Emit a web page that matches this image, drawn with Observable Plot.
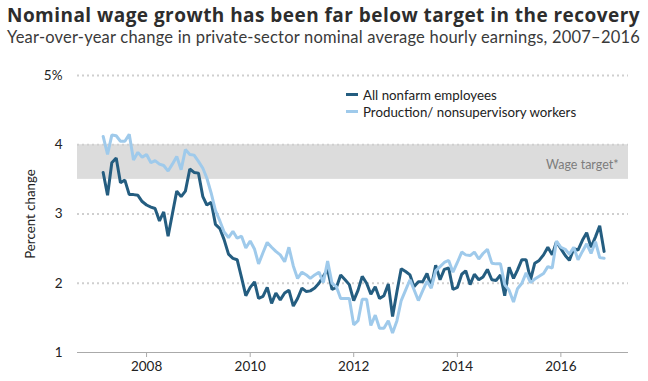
<!DOCTYPE html>
<html>
<head>
<meta charset="utf-8">
<script src="https://cdn.jsdelivr.net/npm/d3@7"></script>
<script src="https://cdn.jsdelivr.net/npm/@observablehq/plot@0.6"></script>
<style>
  html, body { margin: 0; padding: 0; background: #fff; }
  body { width: 648px; height: 381px; position: relative; overflow: hidden; font-family: "Lato", "Open Sans", sans-serif; }
  #title { position: absolute; left: 7px; top: 2px; font-family: "Open Sans", sans-serif; font-size: 19px; font-weight: 700; color: #2d2d2d; white-space: nowrap; line-height: 26px; }
  #subtitle { position: absolute; left: 7px; top: 27px; font-size: 16.5px; color: #3a3a3a; white-space: nowrap; line-height: 20px; }
  #chart { position: absolute; left: 0; top: 55px; }
  #legend { position: absolute; left: 346px; top: 86px; font-size: 13.3px; color: #222; }
  .row { display: flex; align-items: center; height: 17px; }
  .sw { width: 12px; height: 3.5px; margin-right: 5px; }
</style>
</head>
<body>
<div id="title">Nominal wage growth has been far below target in the recovery</div>
<div id="subtitle">Year-over-year change in private-sector nominal average hourly earnings, 2007–2016</div>
<div id="chart"></div>
<div id="legend"></div>
<script>
// Monthly series, March 2007 – November 2016 (percent, year-over-year)
const startMonth = "2007-03-01";
const seriesNames = ["All nonfarm employees", "Production/ nonsupervisory workers"];
const seriesColors = ["#245d80", "#9fcaeb"];

const allEmployees = [
  3.60, 3.27, 3.74, 3.81, 3.45, 3.49, 3.28, 3.28, 3.27, 3.18,
  3.13, 3.10, 3.08, 2.90, 3.03, 2.68, 3.00, 3.33, 3.25, 3.33, 3.65, 3.60,
  3.59, 3.25, 3.13, 3.17, 2.85, 2.79, 2.63, 2.42, 2.36, 2.34, 2.08, 1.82,
  1.94, 2.02, 1.78, 1.81, 1.94, 1.71, 1.86, 1.76, 1.86, 1.90, 1.67, 1.78,
  1.93, 1.88, 1.89, 1.93, 2.00, 2.10, 2.20, 1.91, 1.94, 2.12, 2.05, 1.98,
  1.75, 1.90, 2.10, 2.00, 1.84, 1.95, 1.78, 1.82, 1.99, 1.52, 1.88, 2.21,
  2.17, 2.12, 1.95, 2.02, 2.02, 2.14, 1.95, 2.26, 2.05, 2.20, 2.22, 1.91,
  1.94, 2.13, 2.18, 1.98, 2.13, 2.05, 2.09, 2.20, 2.05, 2.04, 2.12, 1.82,
  2.23, 2.07, 2.19, 2.34, 2.34, 2.05, 2.29, 2.33, 2.41, 2.52, 2.41, 2.60,
  2.50, 2.40, 2.33, 2.50, 2.48, 2.62, 2.73, 2.52, 2.67, 2.83, 2.46
];

const production = [
  4.12, 3.86, 4.14, 4.13, 4.05, 4.05, 4.15, 3.78, 3.89, 3.82,
  3.86, 3.74, 3.77, 3.72, 3.70, 3.62, 3.72, 3.83, 3.64, 3.93, 3.86, 3.85,
  3.76, 3.66, 3.52, 3.30, 3.05, 2.90, 2.74, 2.66, 2.75, 2.65, 2.68, 2.51,
  2.61, 2.49, 2.28, 2.44, 2.59, 2.52, 2.46, 2.41, 2.31, 2.52, 2.25, 2.07,
  2.16, 2.12, 2.07, 2.12, 2.16, 2.01, 2.32, 2.00, 1.95, 1.78, 1.78, 1.78,
  1.40, 1.46, 1.77, 1.77, 1.39, 1.54, 1.35, 1.35, 1.46, 1.28, 1.46, 1.75,
  1.90, 2.05, 1.91, 1.75, 1.89, 2.03, 1.93, 2.18, 2.24, 2.30, 2.33, 2.16,
  2.30, 2.45, 2.41, 2.40, 2.45, 2.35, 2.43, 2.49, 2.29, 2.28, 2.28, 1.98,
  1.90, 1.73, 1.92, 2.00, 2.15, 2.01, 2.06, 2.10, 2.14, 2.24, 2.22, 2.61,
  2.52, 2.49, 2.42, 2.52, 2.34, 2.46, 2.57, 2.43, 2.60, 2.37, 2.36
];

const yTicks = [1, 2, 3, 4, 5];
const gridValues = [2, 3, 4, 5];
const targetBand = [{ low: 3.5, high: 4.0 }];
const targetLabel = "Wage target*";
const yLabel = "Percent change";

const start = new Date(startMonth);
const months = allEmployees.map((_, i) => d3.utcMonth.offset(start, i));
const rows = [];
[allEmployees, production].forEach((vals, s) => {
  vals.forEach((v, i) => rows.push({ date: months[i], value: v, series: seriesNames[s] }));
});

const chart = Plot.plot({
  width: 648,
  height: 326,
  marginLeft: 77,
  marginRight: 20,
  marginTop: 20,
  marginBottom: 29,
  style: { fontFamily: "Lato, 'Open Sans', sans-serif", color: "#222", background: "#fff" },
  x: { type: "utc", domain: [new Date("2006-09-01"), new Date("2017-04-22")] },
  y: { domain: [1, 5] },
  color: { domain: seriesNames, range: seriesColors },
  marks: [
    Plot.rect(targetBand, { y1: "low", y2: "high", fill: "#dcdcdc" }),
    Plot.ruleY(gridValues, { stroke: "#cfcfcf", strokeWidth: 2, strokeDasharray: "2,3" }),
    Plot.ruleY([1], { stroke: "#aaa", strokeWidth: 1.2 }),
    Plot.text([targetLabel], { frameAnchor: "right", y: 3.71, dx: -10, textAnchor: "end", fill: "#7d7d7d", fontSize: 12.5 }),
    Plot.axisY({ ticks: yTicks, tickSize: 0, tickPadding: 15, fontSize: 13.5, label: null,
      tickFormat: d => d === 5 ? "5%" : String(d) }),
    Plot.axisX({ ticks: d3.utcYear.every(2), tickFormat: "%Y", tickSize: 5, tickPadding: 4, fontSize: 13.5, label: null, stroke: "#aaa" }),
    Plot.text([yLabel], { frameAnchor: "left", textAnchor: "middle", rotate: -90, dx: -47, fontSize: 13.3, fill: "#222" }),
    Plot.line(rows, { x: "date", y: "value", z: "series", stroke: "series", strokeWidth: 3, curve: "linear", strokeLinejoin: "miter" })
  ]
});
document.getElementById("chart").appendChild(chart);

const legend = document.getElementById("legend");
seriesNames.forEach((name, i) => {
  const row = document.createElement("div");
  row.className = "row";
  const sw = document.createElement("div");
  sw.className = "sw";
  sw.style.background = seriesColors[i];
  const t = document.createElement("span");
  t.textContent = name;
  row.appendChild(sw);
  row.appendChild(t);
  legend.appendChild(row);
});

// stretch title and subtitle to span the same width as in the reference
function fit(id, target) {
  const el = document.getElementById(id);
  const w = el.getBoundingClientRect().width;
  const n = el.textContent.length;
  el.style.letterSpacing = ((target - w) / n).toFixed(3) + "px";
}
fit("title", 633);
fit("subtitle", 633);
</script>
</body>
</html>
